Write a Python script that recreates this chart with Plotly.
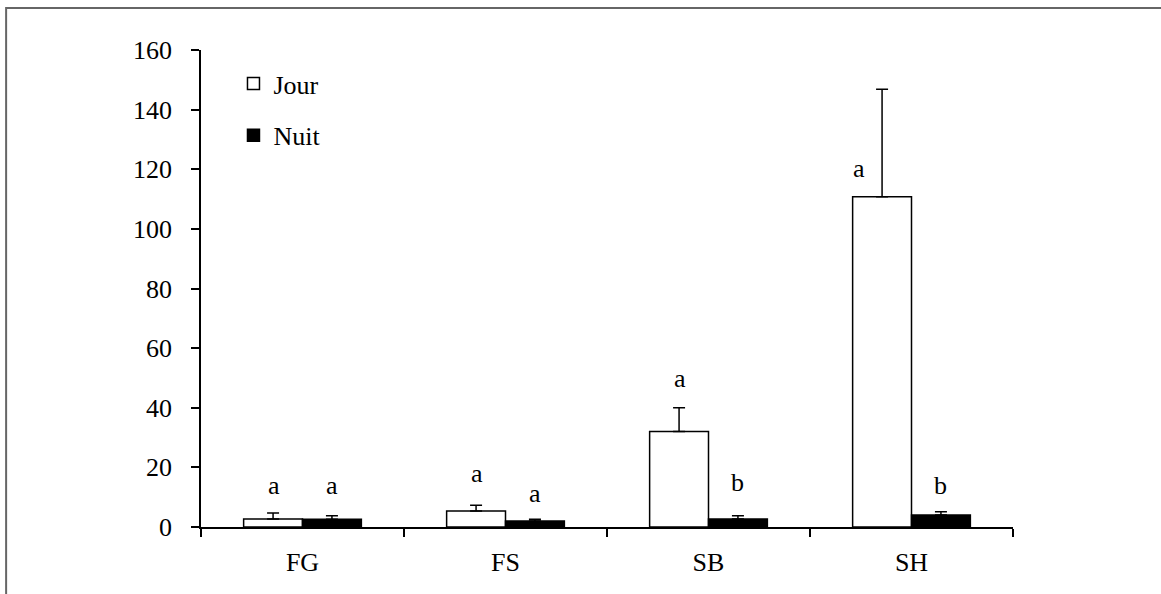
import plotly.graph_objects as go

categories = ["FG", "FS", "SB", "SH"]
jour = [2.7, 5.4, 32.0, 110.8]
jour_err = [2.0, 1.9, 8.0, 36.0]
nuit = [2.6, 2.0, 2.7, 4.0]
nuit_err = [1.2, 0.6, 1.1, 1.1]
jour_letters = ["a", "a", "a", "a"]
nuit_letters = ["a", "a", "b", "b"]
# baseline heights (data units) of the significance letters
jour_letter_y = [10.7, 14.8, 46.6, 117.0]
nuit_letter_y = [10.7, 8.1, 11.7, 10.7]
y_ticks = [0, 20, 40, 60, 80, 100, 120, 140, 160]

FONT = "Liberation Serif, Times New Roman, serif"
FS = 26

fig = go.Figure()
fig.add_trace(go.Bar(
    name="Jour", x=categories, y=jour,
    marker=dict(color="white", line=dict(color="black", width=1.5)),
    error_y=dict(type="data", array=jour_err, arrayminus=[0] * 4, symmetric=False,
                 color="black", thickness=1.5, width=6),
    legendgroup="j",
))
fig.add_trace(go.Bar(
    name="Nuit", x=categories, y=nuit,
    marker=dict(color="black", line=dict(color="black", width=1.5)),
    error_y=dict(type="data", array=nuit_err, arrayminus=[0] * 4, symmetric=False,
                 color="black", thickness=1.5, width=6),
    legendgroup="n",
))

annotations = []
for i, c in enumerate(categories):
    xs = -24 if i == 3 else 0
    annotations.append(dict(x=c, y=jour_letter_y[i], xref="x", yref="y", text=jour_letters[i],
                            showarrow=False, xshift=-29 + xs, yanchor="bottom", yshift=-7,
                            font=dict(family=FONT, size=FS, color="black")))
    annotations.append(dict(x=c, y=nuit_letter_y[i], xref="x", yref="y", text=nuit_letters[i],
                            showarrow=False, xshift=29, yanchor="bottom", yshift=-7,
                            font=dict(family=FONT, size=FS, color="black")))

fig.update_layout(
    width=1161, height=594,
    margin=dict(l=201, r=148, t=50, b=67),
    paper_bgcolor="white", plot_bgcolor="white",
    barmode="group", bargap=0.42, bargroupgap=0,
    font=dict(family=FONT, size=FS, color="black"),
    showlegend=True,
    legend=dict(x=0.04, y=0.979, xanchor="left", yanchor="top",
                traceorder="grouped", tracegroupgap=15,
                bgcolor="rgba(0,0,0,0)", font=dict(family=FONT, size=FS, color="black")),
    annotations=annotations,
    shapes=[dict(type="rect", xref="paper", yref="paper",
                 x0=-0.240, x1=1.3, y0=-0.5, y1=1.088,
                 line=dict(color="#666666", width=2), layer="below")],
)
fig.update_xaxes(
    type="category", range=[-0.5, 3.5],
    showline=True, linecolor="black", linewidth=1.5,
    ticks="outside", tickson="boundaries", ticklen=8, tickwidth=1.5, tickcolor="black",
    showgrid=False, zeroline=False, ticklabelstandoff=11,
)
fig.update_yaxes(
    range=[0, 160], tickvals=y_ticks,
    showline=True, linecolor="black", linewidth=1.5,
    ticks="outside", ticklen=8, tickwidth=1.5, tickcolor="black",
    showgrid=False, zeroline=False, ticklabelstandoff=14,
)

fig.write_html("out.html")
